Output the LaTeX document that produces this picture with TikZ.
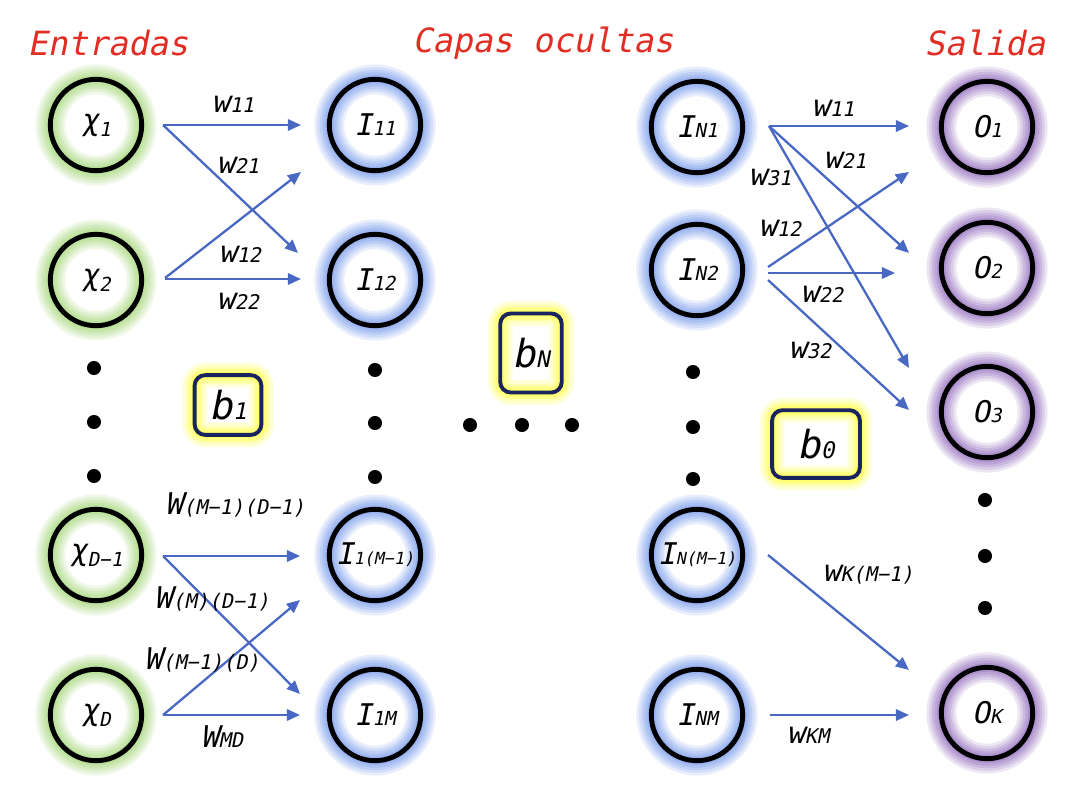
\documentclass[tikz,border=0pt]{standalone}
\usepackage{fontspec}
\usetikzlibrary{arrows.meta,calc}
\newfontfamily\labfont{DejaVu Sans Mono}[FakeSlant=0.2]
\definecolor{arrowblue}{RGB}{72,104,196}
\definecolor{glowgreen}{RGB}{150,210,100}
\definecolor{glowblue}{RGB}{100,140,235}
\definecolor{glowpurple}{RGB}{130,85,180}
\definecolor{glowyellow}{RGB}{255,255,40}
\definecolor{navyb}{RGB}{25,35,95}
\definecolor{titlered}{RGB}{225,45,35}
\newcommand{\nlab}[2]{{\fontsize{17}{17}\selectfont #1}{\fontsize{11}{11}\selectfont #2}}
\newcommand{\xlab}[1]{{\fontsize{17}{17}\selectfont χ}\raisebox{-3.5pt}{\fontsize{11}{11}\selectfont #1}}
\newcommand{\nlabs}[2]{{\fontsize{17}{17}\selectfont #1}{\fontsize{9.5}{9.5}\selectfont #2}}
\newcommand{\wlab}[2]{{\fontsize{17}{17}\selectfont #1}{\fontsize{11.5}{11.5}\selectfont #2}}
\newcommand{\blab}[2]{{\fontsize{22}{22}\selectfont #1}{\fontsize{13}{13}\selectfont #2}}
\tikzset{
  neuron/.style={circle, minimum size=52pt, inner sep=0pt, draw=black, line width=2.8pt, font=\labfont,
    preaction={draw=#1, draw opacity=0.14, line width=17pt},
    preaction={draw=#1, draw opacity=0.16, line width=14pt},
    preaction={draw=#1, draw opacity=0.18, line width=11pt},
    preaction={draw=#1, draw opacity=0.2, line width=8pt},
    preaction={draw=#1, draw opacity=0.22, line width=5pt}},
  bias/.style={rectangle, rounded corners=6pt, draw=navyb, line width=2.2pt, inner sep=0pt, font=\labfont,
    preaction={draw=glowyellow, draw opacity=0.18, line width=14pt},
    preaction={draw=glowyellow, draw opacity=0.22, line width=10pt},
    preaction={draw=glowyellow, draw opacity=0.28, line width=7pt},
    preaction={draw=glowyellow, draw opacity=0.32, line width=4pt}},
  dotn/.style={circle, fill=black, minimum size=8pt, inner sep=0pt},
  conn/.style={draw=arrowblue, line width=1.3pt, -{Triangle[length=7.5pt,width=6.5pt]}},
  wl/.style={font=\labfont, inner sep=0pt},
  title/.style={font=\labfont\fontsize{19}{19}\selectfont, text=titlered, inner sep=0pt}
}
\begin{document}
\begin{tikzpicture}[x=0.02cm,y=-0.02cm]
\useasboundingbox (0,0) rectangle (1087,805);
\fill[white] (0,0) rectangle (1087,805);
% titles
\node[title] (t1) at (108,43) {Entradas};
\node[title] (t2) at (543,43) {Capas ocultas};
\node[title] (t3) at (985,43) {Salida};
% input
\node[neuron=glowgreen] (x1) at (96,125) {\xlab{1}};
\node[neuron=glowgreen] (x2) at (96,280) {\xlab{2}};
\node[neuron=glowgreen] (xD1) at (96,555) {\xlab{D−1}};
\node[neuron=glowgreen] (xD) at (96,715) {\xlab{D}};
% hidden 1
\node[neuron=glowblue] (I11) at (375,125) {\nlab{I}{11}};
\node[neuron=glowblue] (I12) at (375,280) {\nlab{I}{12}};
\node[neuron=glowblue] (I1M1) at (375,555) {\nlabs{I}{1(M−1)}};
\node[neuron=glowblue] (I1M) at (375,715) {\nlab{I}{1M}};
% hidden N
\node[neuron=glowblue] (IN1) at (697,127) {\nlab{I}{N1}};
\node[neuron=glowblue] (IN2) at (697,270) {\nlab{I}{N2}};
\node[neuron=glowblue] (INM1) at (697,555) {\nlabs{I}{N(M−1)}};
\node[neuron=glowblue] (INM) at (697,715) {\nlab{I}{NM}};
% output
\node[neuron=glowpurple] (O1) at (987,127) {\nlab{O}{1}};
\node[neuron=glowpurple] (O2) at (987,268) {\nlab{O}{2}};
\node[neuron=glowpurple] (O3) at (987,412) {\nlab{O}{3}};
\node[neuron=glowpurple] (OK) at (987,713) {\nlab{O}{K}};
% bias
\node[bias, minimum width=38pt, minimum height=34pt] (b1) at (228,405) {\blab{b}{1}};
\node[bias, minimum width=35pt, minimum height=45pt] (bN) at (531,353) {\blab{b}{N}};
\node[bias, minimum width=50pt, minimum height=38.5pt] (b0) at (816,444) {\blab{b}{0}};
% dots
\node[dotn] (dl1) at (94,368) {};
\node[dotn] (dl2) at (94,422) {};
\node[dotn] (dl3) at (94,476) {};
\node[dotn] (di1) at (375,370) {};
\node[dotn] (di2) at (375,423) {};
\node[dotn] (di3) at (375,477) {};
\node[dotn] (dm1) at (470,425) {};
\node[dotn] (dm2) at (522,425) {};
\node[dotn] (dm3) at (572,425) {};
\node[dotn] (dn1) at (693,372) {};
\node[dotn] (dn2) at (693,427) {};
\node[dotn] (dn3) at (693,479) {};
\node[dotn] (do1) at (985,500) {};
\node[dotn] (do2) at (985,556) {};
\node[dotn] (do3) at (985,608) {};
% left connectors
\draw[conn] ($(x1)+(67,0)$) -- ($(I11)+(-74,0)$);
\draw[conn] ($(x1)+(67,0)$) -- ($(I12)+(-77,-27)$);
\draw[conn] ($(x2)+(69,-2)$) -- ($(I11)+(-74,47)$);
\draw[conn] ($(x2)+(69,-1)$) -- ($(I12)+(-74,-1)$);
\draw[conn] ($(xD1)+(67,1)$) -- ($(I1M1)+(-75,1)$);
\draw[conn] ($(xD1)+(67,1)$) -- ($(I1M)+(-75,-21)$);
\draw[conn] ($(xD)+(67,0)$) -- ($(I1M1)+(-75,45)$);
\draw[conn] ($(xD)+(67,0)$) -- ($(I1M)+(-75,0)$);
% right connectors
\draw[conn] ($(IN1)+(72,-1)$) -- ($(O1)+(-78,-1)$);
\draw[conn] ($(IN1)+(72,-1)$) -- ($(O2)+(-78,-15)$);
\draw[conn] ($(IN1)+(72,-1)$) -- ($(O3)+(-78,-44)$);
\draw[conn] ($(IN2)+(71,-3)$) -- ($(O1)+(-78,45)$);
\draw[conn] ($(IN2)+(71,3)$) -- ($(O2)+(-92,5)$);
\draw[conn] ($(IN2)+(71,10)$) -- ($(O3)+(-78,-2)$);
\draw[conn] ($(INM1)+(71,0)$) -- ($(OK)+(-78,-43)$);
\draw[conn] ($(INM)+(73,0)$) -- ($(OK)+(-78,2)$);
% weight labels left
\node[wl] (lw11) at (233,104) {\wlab{w}{11}};
\node[wl] (lw21) at (238,165) {\wlab{w}{21}};
\node[wl] (lw12) at (240,254) {\wlab{w}{12}};
\node[wl] (lw22) at (238,301) {\wlab{w}{22}};
\node[wl] (lwa) at (235,505) {\wlab{W}{(M−1)(D−1)}};
\node[wl] (lwb) at (212,599) {\wlab{W}{(M)(D−1)}};
\node[wl] (lwc) at (202,660) {\wlab{W}{(M−1)(D)}};
\node[wl] (lwd) at (222,737) {\wlab{W}{MD}};
% weight labels right
\node[wl] (rw11) at (833,108) {\wlab{w}{11}};
\node[wl] (rw21) at (845,160) {\wlab{w}{21}};
\node[wl] (rw31) at (770,177) {\wlab{w}{31}};
\node[wl] (rw12) at (780,228) {\wlab{w}{12}};
\node[wl] (rw22) at (822,294) {\wlab{w}{22}};
\node[wl] (rw32) at (810,350) {\wlab{w}{32}};
\node[wl] (rwk) at (868,575) {\wlab{w}{K(M−1)}};
\node[wl] (rwkm) at (808,735) {\wlab{w}{KM}};
\end{tikzpicture}
\end{document}
